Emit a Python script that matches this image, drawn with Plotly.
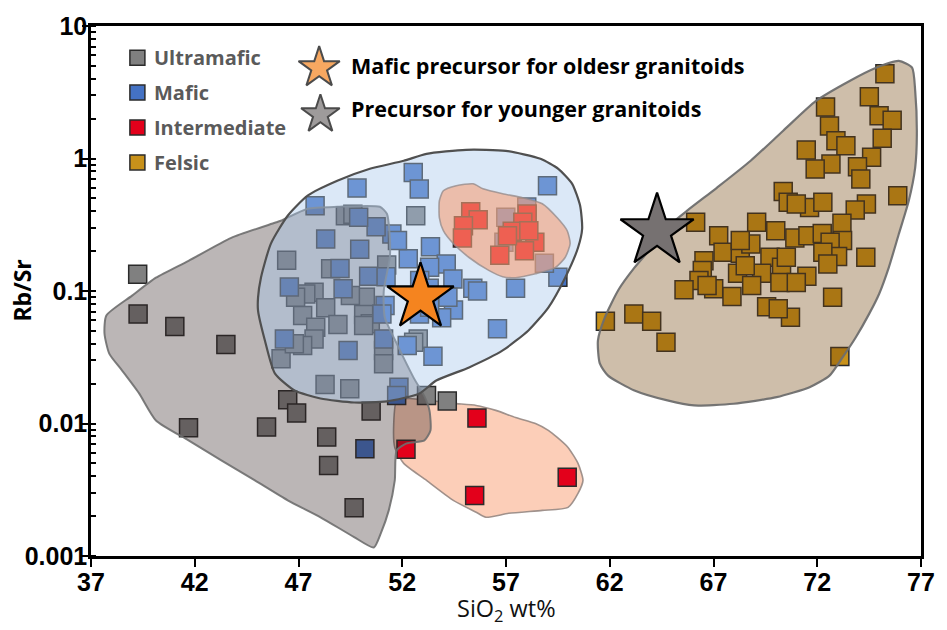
import plotly.graph_objects as go

# ---------------- data ----------------
ultramafic_x = [39.25, 39.27, 41.04, 43.5, 41.7, 45.46, 46.48, 46.91, 48.36, 48.45, 49.68, 50.5,
                48.28, 49.47, 53.17, 54.17, 52.65, 52.77, 46.43, 49.26, 48.55, 51.25, 47.75, 47.2,
                48.31, 47.83, 48.9, 50.22, 50.14, 50.46, 47.75, 47.2, 46.16, 51.1, 51.1, 46.8,
                47.35, 50.14, 49.5, 49.62, 52.55, 46.86]
ultramafic_y = [0.134, 0.067, 0.054, 0.0394, 0.0093, 0.0094, 0.0151, 0.0120, 0.0079, 0.00483, 0.00231, 0.0124,
                0.0197, 0.0183, 0.0163, 0.0148, 0.37, 0.0435, 0.171, 0.37, 0.147, 0.157, 0.0977, 0.0653,
                0.0747, 0.0533, 0.0559, 0.0897, 0.0664, 0.0565, 0.0435, 0.0388, 0.0308, 0.0356, 0.0282, 0.0399,
                0.095, 0.0548, 0.0923, 0.38, 0.041, 0.0897]

mafic_x = [50.2, 51.84, 51.73, 52.53, 52.82, 59.0, 59.5, 57.46, 56.59, 55.4, 55.63, 54.47, 53.9, 53.48,
           52.24, 53.36, 52.29, 54.12, 54.44, 53.32, 51.5, 51.77, 50.74, 51.17, 49.82, 47.8, 49.9, 48.31,
           49.95, 49.0, 50.38, 51.22, 46.56, 49.15, 46.32, 49.39, 51.1, 52.83, 52.84, 53.32, 56.99, 56.9,
           58.85, 58.0, 54.2, 51.02, 53.3]
mafic_y = [0.00646, 0.0188, 0.0163, 0.785, 0.588, 0.623, 0.127, 0.105, 0.0518, 0.105, 0.100, 0.072, 0.0627, 0.0322,
           0.0388, 0.216, 0.175, 0.16, 0.123, 0.151, 0.269, 0.24, 0.305, 0.0776, 0.598, 0.44, 0.36, 0.247,
           0.207, 0.148, 0.129, 0.128, 0.107, 0.104, 0.0435, 0.0356, 0.0435, 0.067, 0.12, 0.0755, 0.36, 0.233,
           0.162, 0.43, 0.0897, 0.067, 0.105]

intermediate_low_x = [55.6, 52.18, 55.49, 59.95]
intermediate_low_y = [0.0110, 0.0064, 0.00286, 0.00393]
intermediate_high_x = [55.3, 55.66, 54.95, 54.9, 58.02, 57.81, 57.3, 58.39, 57.89, 56.7, 58.1, 57.07]
intermediate_high_y = [0.396, 0.345, 0.311, 0.251, 0.381, 0.33, 0.282, 0.233, 0.201, 0.186, 0.285, 0.261]

felsic_x = [75.26, 74.51, 72.4, 74.98, 75.61, 72.59, 75.13, 72.9, 73.38, 71.47, 74.62, 72.66, 71.9, 73.94,
            74.1, 70.36, 75.88, 74.37, 71.63, 72.27, 73.83, 70.6, 70.99, 66.14, 69.08, 73.19, 67.25, 70.0,
            70.92, 71.55, 72.24, 73.22, 72.62, 72.98, 72.27, 72.51, 74.34, 67.46, 68.29, 69.72, 70.28, 66.54,
            66.46, 68.16, 69.32, 71.5, 66.3, 67.01, 65.58, 67.89, 69.56, 70.71, 72.74, 61.79, 63.16, 64.02,
            64.71, 73.09, 68.8, 68.29, 66.69, 68.84, 70.2, 70.99, 70.12, 70.51, 68.53]
felsic_y = [4.37, 2.93, 2.45, 2.1, 1.94, 1.76, 1.42, 1.36, 1.25, 1.16, 1.02, 0.908, 0.832, 0.865,
            0.70, 0.564, 0.524, 0.453, 0.427, 0.467, 0.408, 0.467, 0.453, 0.33, 0.33, 0.324, 0.261, 0.285,
            0.251, 0.261, 0.272, 0.24, 0.233, 0.182, 0.196, 0.16, 0.18, 0.196, 0.193, 0.18, 0.151, 0.169,
            0.143, 0.136, 0.136, 0.129, 0.12, 0.104, 0.102, 0.0908, 0.0762, 0.0634, 0.0897, 0.0591, 0.0671, 0.0591,
            0.041, 0.0321, 0.226, 0.24, 0.11, 0.11, 0.116, 0.116, 0.0733, 0.18, 0.155]

mafic_precursor_x = [52.88]
mafic_precursor_y = [0.0897]
younger_precursor_x = [64.28]
younger_precursor_y = [0.283]

# field outlines (hand-drawn envelopes)
ultramafic_field_x = [37.65, 37.74, 38.98, 40.13, 41.70, 43.76, 45.86, 46.15, 47.44, 48.87, 50.92, 51.26, 51.40,
                      51.40, 51.11, 51.16, 51.73, 52.54, 53.07, 53.31, 53.36, 53.07, 52.21, 51.73, 51.64, 51.35,
                      50.97, 50.63, 49.68, 48.06, 46.48, 44.90, 43.28, 41.70, 40.13, 39.32, 38.50, 37.88]
ultramafic_field_y = [0.0478, 0.0653, 0.0923, 0.126, 0.169, 0.252, 0.327, 0.339, 0.418, 0.432, 0.432, 0.383, 0.252,
                      0.179, 0.1007, 0.063, 0.0402, 0.0223, 0.016, 0.01256, 0.00887, 0.00746, 0.00708, 0.00627, 0.00372, 0.00221,
                      0.00149, 0.00116, 0.00139, 0.00196, 0.00263, 0.00372, 0.00527, 0.00746, 0.01054, 0.01687, 0.0251, 0.0337]

mafic_field_x = [45.05, 45.05, 45.19, 45.67, 46.48, 47.44, 48.87, 50.44, 52.07, 53.17, 55.08, 56.99, 58.66, 59.52,
                 60.19, 60.57, 60.67, 60.47, 59.85, 59.04, 58.08, 56.84, 55.22, 53.64, 52.83, 51.26, 49.68, 48.06,
                 46.81, 45.86, 45.38]
mafic_field_y = [0.0711, 0.0891, 0.126, 0.228, 0.370, 0.524, 0.679, 0.836, 0.961, 1.085, 1.163, 1.143, 0.995, 0.836,
                 0.644, 0.441, 0.295, 0.212, 0.126, 0.075, 0.0504, 0.0356, 0.0265, 0.0211, 0.01687, 0.0147, 0.0144, 0.01545,
                 0.01775, 0.0239, 0.0423]

intermediate_high_field_x = [53.79, 53.98, 54.6, 55.41, 55.89, 56.84, 57.80, 58.75, 59.47, 59.95, 60.09, 59.85,
                             59.37, 58.42, 57.46, 56.84, 56.17, 55.22, 54.46, 53.98, 53.79]
intermediate_high_field_y = [0.48, 0.571, 0.623, 0.644, 0.591, 0.542, 0.506, 0.456, 0.357, 0.285, 0.228, 0.179,
                             0.15, 0.135, 0.126, 0.128, 0.143, 0.179, 0.228, 0.285, 0.357]

intermediate_low_field_x = [51.73, 51.59, 51.64, 52.07, 53.17, 54.46, 55.56, 56.03, 57.13, 58.75, 59.99, 60.47,
                            60.71, 60.47, 59.99, 59.47, 59.04, 58.42, 57.46, 56.51, 55.56, 54.46, 53.31, 52.35]
intermediate_low_field_y = [0.01493, 0.01, 0.0066, 0.005, 0.00372, 0.00263, 0.00214, 0.00196, 0.0021, 0.00221, 0.00233, 0.00297,
                            0.00372, 0.005, 0.0066, 0.00785, 0.00887, 0.01, 0.0111, 0.01256, 0.01369, 0.01418, 0.01493, 0.01545]

felsic_field_x = [75.93, 76.57, 76.72, 76.80, 76.72, 76.41, 75.93, 75.45, 74.98, 74.50, 73.86, 73.22, 72.59, 71.63,
                  70.04, 67.97, 66.06, 64.78, 63.19, 61.92, 61.52, 61.43, 61.76, 62.43, 63.19, 64.01, 64.97, 65.73,
                  67.16, 68.79, 70.36, 71.94, 73.56, 74.81]
felsic_field_y = [5.45, 4.85, 3.24, 1.53, 0.855, 0.48, 0.269, 0.151, 0.095, 0.0672, 0.0448, 0.0316, 0.023, 0.0188,
                  0.0158, 0.0141, 0.01369, 0.01493, 0.01775, 0.023, 0.0284, 0.0423, 0.063, 0.1026, 0.15, 0.212, 0.322, 0.404,
                  0.601, 0.961, 1.62, 2.72, 3.85, 4.82]

x_ticks = [37, 42, 47, 52, 57, 62, 67, 72, 77]
y_ticks = [0.001, 0.01, 0.1, 1, 10]
y_tick_labels = ["0.001", "0.01", "0.1", "1", "10"]

legend_labels = ["Ultramafic", "Mafic", "Intermediate", "Felsic"]
star_labels = ["Mafic precursor for oldesr granitoids", "Precursor for younger granitoids"]

# ---------------- styling ----------------
C_ULTRA = "#808080"
C_MAFIC = "#4472c4"
C_INTER = "#e3001b"
C_FELSIC = "#c8911a"
SQ = 18
EDGE = dict(color="#2b2b2b", width=1.5)
TXT_FONT = "'Open Sans', Lato, sans-serif"
NUM_FONT = "'Liberation Sans', Arial, sans-serif"

fig = go.Figure()


def field(x, y, fill, line, width=2.0):
    fig.add_trace(go.Scatter(x=x + x[:1], y=y + y[:1], mode="lines", fill="toself",
                             fillcolor=fill, line=dict(color=line, width=width, shape="spline", smoothing=0.6),
                             hoverinfo="skip", showlegend=False))


def pts(x, y, color, name):
    fig.add_trace(go.Scatter(x=x, y=y, mode="markers", name=name,
                             marker=dict(symbol="square", size=SQ, color=color, line=EDGE),
                             showlegend=False))


field(intermediate_low_field_x, intermediate_low_field_y, "#fcceb8", "rgba(150,135,130,0.9)", 1.6)
pts(felsic_x, felsic_y, C_FELSIC, "Felsic")
pts(ultramafic_x, ultramafic_y, C_ULTRA, "Ultramafic")
pts(mafic_x, mafic_y, C_MAFIC, "Mafic")
pts(intermediate_low_x, intermediate_low_y, C_INTER, "Intermediate")
field(felsic_field_x, felsic_field_y, "rgba(113,67,9,0.345)", "rgba(110,110,110,0.95)", 2.2)
field(ultramafic_field_x, ultramafic_field_y, "rgba(45,28,28,0.32)", "rgba(110,110,110,0.9)", 2.0)
field(mafic_field_x, mafic_field_y, "rgba(168,200,236,0.41)", "#505050", 2.2)
pts(intermediate_high_x, intermediate_high_y, C_INTER, "Intermediate")
field(intermediate_high_field_x, intermediate_high_field_y, "rgba(245,160,120,0.6)", "rgba(150,140,140,0.8)", 1.6)

fig.add_trace(go.Scatter(x=mafic_precursor_x, y=mafic_precursor_y, mode="markers", name=star_labels[0],
                         marker=dict(symbol="star", size=50, color="#f5841f", line=dict(color="black", width=2.2)),
                         showlegend=False))
fig.add_trace(go.Scatter(x=younger_precursor_x, y=younger_precursor_y, mode="markers", name=star_labels[1],
                         marker=dict(symbol="star", size=55, color="#767171", line=dict(color="black", width=2.2)),
                         showlegend=False))

# ---------------- in-plot legend (keys drawn on an overlay 0..1 axis) ----------------
LEG_KEY_X = 0.0559
LEG_TEXT_X = 0.0734
LEG_ROWS = [0.9403, 0.8744, 0.8085, 0.7426]
leg_colors = [C_ULTRA, C_MAFIC, C_INTER, C_FELSIC]
fig.add_trace(go.Scatter(x=[LEG_KEY_X] * 4, y=LEG_ROWS, xaxis="x2", yaxis="y2", mode="markers",
                         marker=dict(symbol="square", size=15, color=leg_colors, line=EDGE),
                         hoverinfo="skip", showlegend=False))
STAR_KEY_X = [0.2749, 0.2764]
STAR_ROWS = [0.921, 0.833]
STAR_TEXT_X = 0.311
STAR_TEXT_ROWS = [0.9247, 0.8437]
fig.add_trace(go.Scatter(x=STAR_KEY_X, y=STAR_ROWS, xaxis="x2", yaxis="y2", mode="markers",
                         marker=dict(symbol="star", size=[31, 29], color=["#f5841f", "#767171"],
                                     line=dict(color="black", width=2)),
                         hoverinfo="skip", showlegend=False))

annotations = []
for lab, yy in zip(legend_labels, LEG_ROWS):
    annotations.append(dict(x=LEG_TEXT_X, y=yy, xref="paper", yref="paper", xanchor="left", yanchor="middle",
                            text="<b>%s</b>" % lab, showarrow=False,
                            font=dict(family=TXT_FONT, size=20, color="#5a5a5a")))
for lab, yy in zip(star_labels, STAR_TEXT_ROWS):
    annotations.append(dict(x=STAR_TEXT_X, y=yy, xref="paper", yref="paper", xanchor="left", yanchor="middle",
                            text="<b>%s</b>" % lab, showarrow=False,
                            font=dict(family=TXT_FONT, size=21.5, color="black")))
annotations.append(dict(x=-0.083, y=0.501, xref="paper", yref="paper", xanchor="center", yanchor="middle",
                        textangle=-90, showarrow=False,
                        text="<b>Rb/Sr</b>", font=dict(family=TXT_FONT, size=23, color="black")))
annotations.append(dict(x=0.5, y=-0.101, xref="paper", yref="paper", xanchor="center", yanchor="middle",
                        showarrow=False,
                        text="SiO<sub>2</sub> wt%", font=dict(family=TXT_FONT, size=23.5, color="#111111")))

fig.update_layout(
    width=947, height=630,
    margin=dict(l=91, r=18, t=25, b=74),
    paper_bgcolor="white", plot_bgcolor="white",
    showlegend=False,
    annotations=annotations,
    xaxis=dict(range=[37, 77], tickmode="array", tickvals=x_ticks, showgrid=False, zeroline=False,
               showline=True, linecolor="black", linewidth=2.5, mirror=True,
               ticks="outside", ticklen=8, tickwidth=2, tickcolor="black", ticklabelstandoff=-6,
               tickfont=dict(family=NUM_FONT, size=25, color="black", weight="bold")),
    yaxis=dict(type="log", range=[-3, 1], tickmode="array", tickvals=y_ticks, ticktext=y_tick_labels,
               showgrid=False, zeroline=False, showline=True, linecolor="black", linewidth=2.5, mirror=True,
               ticks="outside", ticklen=6, tickwidth=2, tickcolor="black", ticklabelstandoff=-10,
               minor=dict(dtick="D1", ticks="inside", ticklen=5, tickwidth=1.5, tickcolor="black", showgrid=False),
               tickfont=dict(family=NUM_FONT, size=25, color="black", weight="bold")),
    xaxis2=dict(overlaying="x", range=[0, 1], visible=False),
    yaxis2=dict(overlaying="y", range=[0, 1], visible=False),
)

fig.write_html("out.html")
